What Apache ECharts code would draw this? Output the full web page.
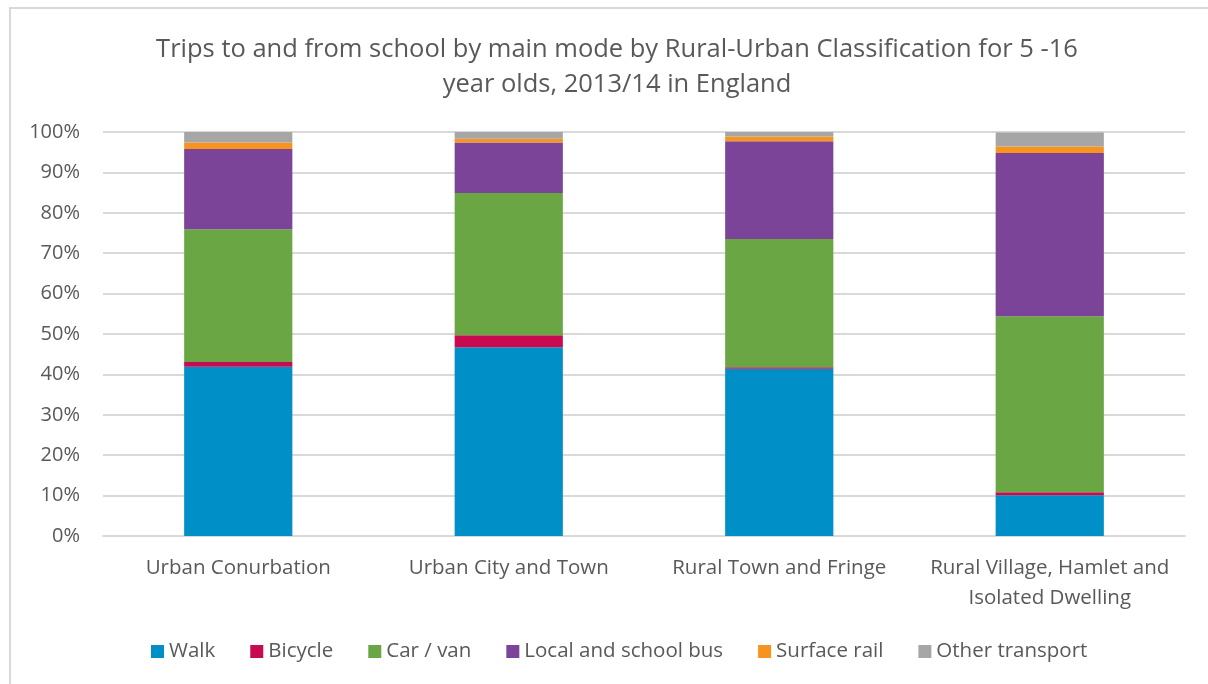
<!DOCTYPE html>
<html>
<head>
<meta charset="utf-8">
<script src="https://cdn.jsdelivr.net/npm/echarts@6/dist/echarts.min.js"></script>
<style>
  html, body { margin: 0; padding: 0; background: #fff; overflow: hidden; }
  #frame { position: absolute; left: 9px; top: 7px; width: 1400px; height: 900px; border: 2px solid #d9d9d9; box-sizing: border-box; }
  #chart { position: absolute; left: 0; top: 0; width: 1208px; height: 684px; }
</style>
</head>
<body>
<div id="frame"></div>
<div id="chart"></div>
<script>
// categories
const areas = ['Urban Conurbation', 'Urban City and Town', 'Rural Town and Fringe', 'Rural Village, Hamlet and\nIsolated Dwelling']

// share of trips (%) by main mode
const walk = [41.9, 46.7, 41.4, 10.1]
const bicycle = [1.2, 3.0, 0.4, 0.7]
const carVan = [32.8, 35.2, 31.7, 43.6]
const bus = [19.9, 12.5, 24.2, 40.4]
const surfaceRail = [1.6, 0.9, 1.2, 1.6]
const otherTransport = [2.6, 1.7, 1.1, 3.5]

const modes = ['Walk', 'Bicycle', 'Car / van', 'Local and school bus', 'Surface rail', 'Other transport']
const modeData = [walk, bicycle, carVan, bus, surfaceRail, otherTransport]
const colors = ['#008fc6', '#c80a50', '#6aa744', '#7b4498', '#f7941d', '#a6a6a6']

const font = '"Open Sans", sans-serif'
const chart = echarts.init(document.getElementById('chart'))

chart.setOption({
  animation: false,
  color: colors,
  textStyle: { fontFamily: font },
  title: {
    text: 'Trips to and from school by main mode by Rural-Urban Classification for 5 -16\nyear olds, 2013/14 in England',
    left: 612,
    textAlign: 'center',
    top: 27,
    textStyle: { fontSize: 25.5, fontWeight: 'normal', color: '#595959', lineHeight: 35, fontFamily: font }
  },
  legend: {
    data: modes,
    bottom: 17,
    left: 146,
    itemWidth: 13,
    itemHeight: 13,
    itemGap: 35,
    icon: 'rect',
    textStyle: { fontSize: 20.5, color: '#595959', fontFamily: font }
  },
  grid: { left: 103, right: 23, top: 132, bottom: 148 },
  xAxis: {
    type: 'category',
    data: areas,
    axisLine: { lineStyle: { color: '#d9d9d9', width: 2 } },
    axisTick: { show: false },
    axisLabel: { interval: 0, fontSize: 20.5, color: '#595959', lineHeight: 30, margin: 17, fontFamily: font }
  },
  yAxis: {
    type: 'value',
    min: 0,
    max: 100,
    interval: 10,
    axisLine: { show: false },
    axisTick: { show: false },
    splitLine: { lineStyle: { color: '#d9d9d9', width: 2 } },
    axisLabel: { formatter: '{value}%', fontSize: 20, color: '#595959', margin: 23, fontFamily: font }
  },
  series: modes.map((name, i) => ({
    name: name,
    type: 'bar',
    stack: 'total',
    barWidth: '40%',
    data: modeData[i]
  }))
})
</script>
</body>
</html>
